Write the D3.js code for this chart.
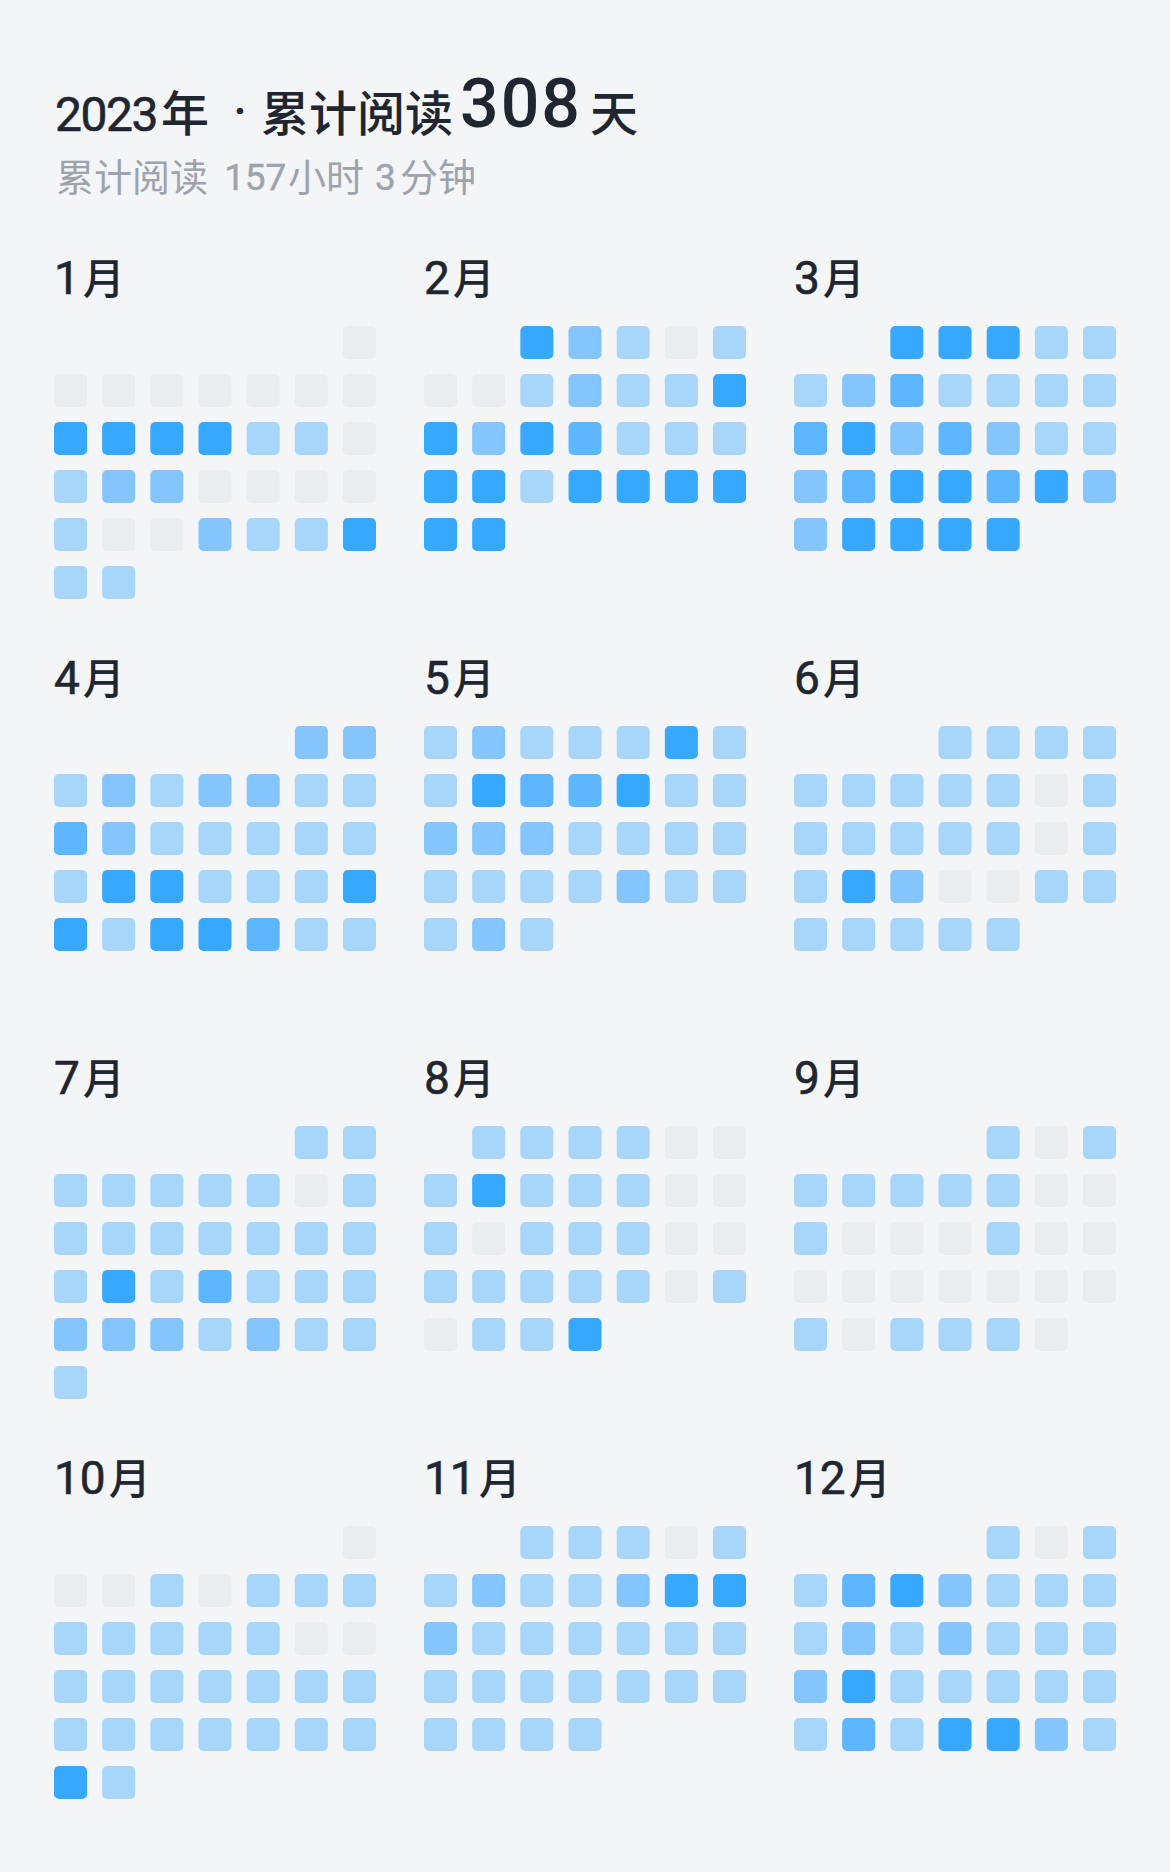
<!DOCTYPE html>
<html><head><meta charset="utf-8">
<script src="https://cdn.jsdelivr.net/npm/d3@7"></script>
<style>
html,body{margin:0;padding:0;background:#F4F5F7;}
svg{display:block;}
</style></head>
<body>
<script>
// ---- data (reading level per day, 0 = no reading, 1..4 = intensity) ----
const year = 2023;
const monthLabels = ["1","2","3","4","5","6","7","8","9","10","11","12"];
const levelColors = ["#EBECEE","#A8D5FA","#84C5FD","#5DB6FE","#36A9FF"];
const jan = [0, 0,0,0,0,0,0,0, 4,4,4,4,1,1,0, 1,2,2,0,0,0,0, 1,0,0,2,1,1,4, 1,1];
const feb = [4,2,1,0,1, 0,0,1,2,1,1,4, 4,2,4,3,1,1,1, 4,4,1,4,4,4,4, 4,4];
const mar = [4,4,4,1,1, 1,2,3,1,1,1,1, 3,4,2,3,2,1,1, 2,3,4,4,3,4,2, 2,4,4,4,4];
const apr = [2,2, 1,2,1,2,2,1,1, 3,2,1,1,1,1,1, 1,4,4,1,1,1,4, 4,1,4,4,3,1,1];
const may = [1,2,1,1,1,4,1, 1,4,3,3,4,1,1, 2,2,2,1,1,1,1, 1,1,1,1,2,1,1, 1,2,1];
const jun = [1,1,1,1, 1,1,1,1,1,0,1, 1,1,1,1,1,0,1, 1,4,2,0,0,1,1, 1,1,1,1,1];
const jul = [1,1, 1,1,1,1,1,0,1, 1,1,1,1,1,1,1, 1,4,1,3,1,1,1, 2,2,2,1,2,1,1, 1];
const aug = [1,1,1,1,0,0, 1,4,1,1,1,0,0, 1,0,1,1,1,0,0, 1,1,1,1,1,0,1, 0,1,1,4];
const sep = [1,0,1, 1,1,1,1,1,0,0, 1,0,0,0,1,0,0, 0,0,0,0,0,0,0, 1,0,1,1,1,0];
const oct = [0, 0,0,1,0,1,1,1, 1,1,1,1,1,0,0, 1,1,1,1,1,1,1, 1,1,1,1,1,1,1, 4,1];
const nov = [1,1,1,0,1, 1,2,1,1,2,4,4, 2,1,1,1,1,1,1, 1,1,1,1,1,1,1, 1,1,1,1];
const dec = [1,0,1, 1,3,4,2,1,1,1, 1,2,1,2,1,1,1, 2,4,1,1,1,1,1, 1,3,1,4,4,2,1];
const monthLevels = [jan,feb,mar,apr,may,jun,jul,aug,sep,oct,nov,dec];
const totalHours = 157, totalMinutes = 3;

// ---- layout ----
const W = 1170, H = 1872;
const svg = d3.select("body").append("svg").attr("width", W).attr("height", H);
svg.append("rect").attr("width", W).attr("height", H).attr("fill", "#F4F5F7");

const CJK = "'Noto Sans CJK SC', 'Noto Sans', sans-serif";
const NUM = "Roboto, 'Noto Sans', sans-serif";
const dark = "#1F2630", grey = "#9DA3AC";

// title
const readDays = d3.sum(monthLevels, m => m.filter(v => v > 0).length);
const title = svg.append("g").attr("fill", dark).attr("font-weight", 500);
title.append("text").attr("x", 55).attr("y", 131).attr("font-family", NUM).attr("font-size", 48).attr("font-weight", 400).attr("letter-spacing", -1.5).attr("stroke", dark).attr("stroke-width", 0.6).text(year);
title.append("text").attr("x", 161).attr("y", 131).attr("font-family", CJK).attr("font-size", 48).text("年");
title.append("text").attr("x", 240).attr("y", 128).attr("text-anchor", "middle").attr("font-family", NUM).attr("font-size", 48).text("·");
title.append("text").attr("x", 261).attr("y", 131).attr("font-family", CJK).attr("font-size", 48).text("累计阅读");
title.append("text").attr("x", 460).attr("y", 127).attr("font-family", NUM).attr("font-size", 68).attr("letter-spacing", 2).text(readDays);
title.append("text").attr("x", 590).attr("y", 131).attr("font-family", CJK).attr("font-size", 48).text("天");

const sub = svg.append("g").attr("fill", grey).attr("font-weight", 400);
sub.append("text").attr("x", 56).attr("y", 191).attr("font-family", CJK).attr("font-size", 38).text("累计阅读");
sub.append("text").attr("x", 224).attr("y", 190).attr("font-family", NUM).attr("font-size", 37).attr("stroke", grey).attr("stroke-width", 0.4).text(totalHours);
sub.append("text").attr("x", 288).attr("y", 191).attr("font-family", CJK).attr("font-size", 38).text("小时");
sub.append("text").attr("x", 375).attr("y", 190).attr("font-family", NUM).attr("font-size", 37).attr("stroke", grey).attr("stroke-width", 0.4).text(totalMinutes);
sub.append("text").attr("x", 400).attr("y", 191).attr("font-family", CJK).attr("font-size", 38).text("分钟");

// scales
const cell = 33;
const monthX = d3.scaleBand().domain([0,1,2]).range([54, 54 + 3*370]);
const monthY = d3.scaleBand().domain([0,1,2,3]).range([326, 326 + 4*400]);
const dayX = d3.scaleBand().domain(d3.range(7)).range([0, 6*48.17 + cell]).paddingInner((48.17 - cell)/48.17);
const weekY = d3.scaleBand().domain(d3.range(6)).range([0, 5*48 + cell]).paddingInner((48 - cell)/48);
const color = d3.scaleOrdinal().domain(d3.range(5)).range(levelColors);

monthLevels.forEach((levels, mi) => {
  const g = svg.append("g")
    .attr("transform", `translate(${monthX(mi % 3)},${monthY(Math.floor(mi / 3))})`);
  const start = new Date(year, mi, 1);
  const days = levels.map((lv, i) => {
    const d = new Date(year, mi, i + 1);
    return { date: d, level: lv,
      col: (d.getDay() + 6) % 7,
      row: d3.timeMonday.count(start, d) };
  });
  g.selectAll("rect").data(days).join("rect")
    .attr("x", d => dayX(d.col))
    .attr("y", d => weekY(d.row))
    .attr("width", dayX.bandwidth())
    .attr("height", weekY.bandwidth())
    .attr("rx", 5).attr("ry", 5)
    .attr("fill", d => color(d.level));

  const lab = g.append("text").attr("x", 0).attr("y", -32)
    .attr("fill", dark).attr("font-weight", 500);
  lab.append("tspan").attr("font-family", NUM).attr("font-size", 46).attr("font-weight", 400)
    .attr("stroke", dark).attr("stroke-width", 0.6).text(monthLabels[mi]);
  lab.append("tspan").attr("dx", 3).attr("font-family", CJK).attr("font-size", 42).text("月");
});
</script>
</body></html>
